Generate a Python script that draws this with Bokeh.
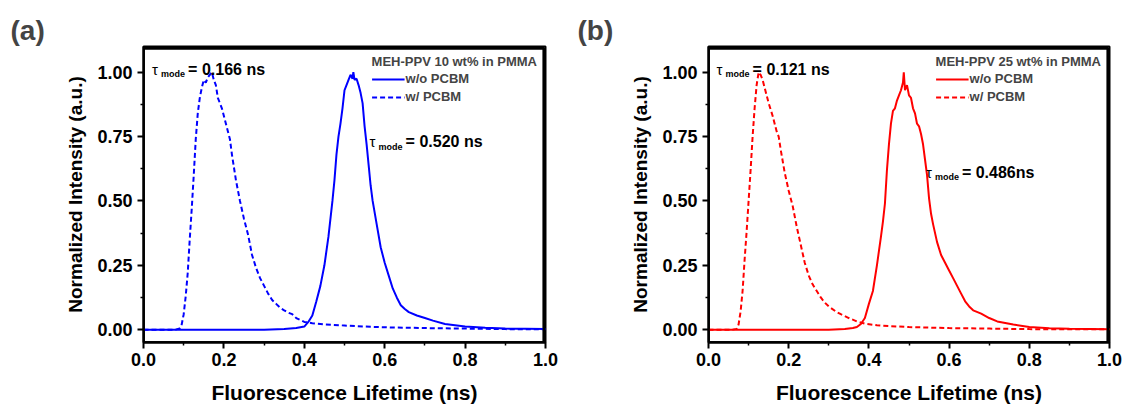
from bokeh.plotting import figure
from bokeh.layouts import row
from bokeh.models import (Range1d, FixedTicker, PrintfTickFormatter, Label, Legend,
                          LegendItem, BoxAnnotation)
from bokeh.embed import file_html
from bokeh.resources import INLINE

FONT = "Liberation Sans"

# ---------------- data ----------------
x_ticks = [0.0, 0.2, 0.4, 0.6, 0.8, 1.0]
x_minor = [0.1, 0.3, 0.5, 0.7, 0.9]
y_ticks = [0.0, 0.25, 0.5, 0.75, 1.0]
y_minor = [0.125, 0.375, 0.625, 0.875]
x_lim = (0.0, 1.0)
y_lim = (-0.05, 1.10)

# panel (a): MEH-PPV 10 wt% in PMMA
a_wo_t = [0.00, 0.10, 0.20, 0.30, 0.35, 0.38, 0.40, 0.41, 0.42, 0.43, 0.44, 0.45, 0.46,
          0.47, 0.475, 0.48, 0.485, 0.49, 0.495, 0.50, 0.505, 0.51, 0.515, 0.52, 0.522,
          0.525, 0.53, 0.535, 0.54, 0.545, 0.55, 0.555, 0.56, 0.565, 0.57, 0.58, 0.59,
          0.60, 0.61, 0.62, 0.63, 0.64, 0.65, 0.66, 0.68, 0.70, 0.72, 0.75, 0.80, 0.85,
          0.90, 0.95, 1.00]
a_wo_i = [0.0, 0.0, 0.0, 0.0, 0.002, 0.006, 0.012, 0.03, 0.055, 0.11, 0.17, 0.25, 0.36,
          0.50, 0.58, 0.68, 0.75, 0.80, 0.86, 0.93, 0.95, 0.97, 0.99, 0.975, 1.0,
          0.97, 0.975, 0.95, 0.92, 0.88, 0.79, 0.72, 0.64, 0.56, 0.50, 0.41, 0.32,
          0.26, 0.21, 0.16, 0.125, 0.095, 0.08, 0.068, 0.055, 0.045, 0.035, 0.022, 0.012, 0.007,
          0.004, 0.003, 0.002]

a_w_t = [0.00, 0.05, 0.08, 0.09, 0.095, 0.10, 0.105, 0.11, 0.115, 0.12, 0.125, 0.13, 0.135,
         0.14, 0.145, 0.15, 0.155, 0.16, 0.165, 0.17, 0.175, 0.18, 0.185, 0.19, 0.195,
         0.20, 0.205, 0.21, 0.215, 0.22, 0.23, 0.24, 0.25, 0.26, 0.27, 0.28, 0.29, 0.30,
         0.31, 0.32, 0.33, 0.34, 0.35, 0.36, 0.37, 0.38, 0.40, 0.42, 0.45, 0.50, 0.55,
         0.60, 0.70, 0.80, 0.90, 1.00]
a_w_i = [0.0, 0.0, 0.0, 0.005, 0.02, 0.06, 0.13, 0.22, 0.35, 0.47, 0.60, 0.74, 0.84,
         0.90, 0.94, 0.97, 0.96, 0.98, 0.99, 1.0, 0.97, 0.95, 0.90, 0.88, 0.86,
         0.83, 0.80, 0.77, 0.74, 0.68, 0.58, 0.50, 0.43, 0.37, 0.29, 0.24, 0.20, 0.17,
         0.14, 0.115, 0.10, 0.085, 0.075, 0.066, 0.06, 0.045, 0.03, 0.025, 0.02, 0.016, 0.012,
         0.009, 0.006, 0.004, 0.002, 0.001]

# panel (b): MEH-PPV 25 wt% in PMMA
b_wo_t = [0.00, 0.30, 0.34, 0.36, 0.37, 0.38, 0.39, 0.40, 0.41, 0.42, 0.43, 0.435, 0.44,
          0.445, 0.45, 0.455, 0.46, 0.465, 0.47, 0.475, 0.48, 0.485, 0.487, 0.49, 0.495,
          0.50, 0.505, 0.51, 0.515, 0.52, 0.525, 0.53, 0.535, 0.54, 0.545, 0.55, 0.555,
          0.56, 0.57, 0.58, 0.59, 0.60, 0.61, 0.62, 0.63, 0.64, 0.65, 0.66, 0.68, 0.70,
          0.72, 0.76, 0.80, 0.85, 0.90, 1.00]
b_wo_i = [0.0, 0.0, 0.002, 0.006, 0.01, 0.022, 0.045, 0.10, 0.15, 0.25, 0.36, 0.42, 0.49,
          0.62, 0.72, 0.80, 0.85, 0.86, 0.89, 0.91, 0.93, 0.96, 1.0, 0.93, 0.95,
          0.91, 0.90, 0.86, 0.84, 0.80, 0.79, 0.76, 0.72, 0.66, 0.60, 0.51, 0.45,
          0.41, 0.34, 0.29, 0.26, 0.23, 0.20, 0.17, 0.14, 0.11, 0.09, 0.075, 0.062, 0.045,
          0.032, 0.02, 0.01, 0.005, 0.003, 0.001]

b_w_t = [0.00, 0.06, 0.07, 0.075, 0.08, 0.085, 0.09, 0.095, 0.10, 0.105, 0.11, 0.115,
         0.12, 0.125, 0.13, 0.135, 0.14, 0.15, 0.16, 0.17, 0.175, 0.18, 0.19, 0.20, 0.21,
         0.22, 0.23, 0.24, 0.25, 0.26, 0.27, 0.28, 0.29, 0.30, 0.32, 0.33, 0.35, 0.37,
         0.39, 0.42, 0.45, 0.50, 0.60, 0.70, 0.80, 0.90, 1.00]
b_w_i = [0.0, 0.0, 0.003, 0.02, 0.07, 0.15, 0.27, 0.38, 0.50, 0.62, 0.75, 0.86,
         0.95, 1.0, 0.99, 0.97, 0.94, 0.88, 0.83, 0.77, 0.75, 0.70, 0.61, 0.54, 0.48,
         0.40, 0.33, 0.26, 0.21, 0.175, 0.15, 0.125, 0.105, 0.09, 0.068, 0.06, 0.045, 0.032,
         0.023, 0.017, 0.014, 0.010, 0.006, 0.004, 0.002, 0.001, 0.001]

panel_tags = ["(a)", "(b)"]
legend_titles = ["MEH-PPV 10 wt% in PMMA", "MEH-PPV 25 wt% in PMMA"]
series_labels = ["w/o PCBM", "w/ PCBM"]
tau_texts = [["= 0.166 ns", "= 0.520 ns"], ["= 0.121 ns", "= 0.486ns"]]
# anchor (data coords) of the "= ..." part of each annotation
tau_pos = [[(0.111, 1.012), (0.652, 0.729)], [(0.110, 1.012), (0.632, 0.612)]]
colors = ["#0000FF", "#FF0000"]


def make_panel(idx, wo_t, wo_i, w_t, w_i, width, left, right, tag_x):
    color = colors[idx]
    p = figure(width=width, height=407, output_backend="svg", toolbar_location=None,
               x_range=Range1d(*x_lim), y_range=Range1d(*y_lim),
               min_border_left=left, min_border_right=right,
               min_border_top=46, min_border_bottom=65)
    p.xgrid.visible = False
    p.ygrid.visible = False
    p.outline_line_color = "#000000"
    p.outline_line_width = 2
    p.outline_line_alpha = 1.0
    p.background_fill_color = "white"
    p.border_fill_color = "white"

    # title (panel tag)
    p.title.text = panel_tags[idx]
    p.title.text_font = FONT
    p.title.text_font_size = "28px"
    p.title.text_font_style = "bold"
    p.title.align = "left"
    p.title.offset = -(left - tag_x)
    p.title.standoff = 2

    # frame box, slightly inset from the range limits so it is never culled
    dy = (y_lim[1] - y_lim[0]) * 0.006
    dx = (x_lim[1] - x_lim[0]) * 0.004
    p.quad(left=[x_lim[0]], right=[x_lim[1] - dx], bottom=[y_lim[0]], top=[y_lim[1] - dy],
           fill_alpha=0, line_color="#000000", line_width=2.5)
    p.add_layout(BoxAnnotation(left=x_lim[0], right=x_lim[1] - dx,
                               bottom=y_lim[0], top=y_lim[1] - dy,
                               fill_alpha=0, line_color="#000000", line_width=2.5,
                               line_alpha=1.0, level="overlay"))

    r1 = p.line(wo_t, wo_i, line_color=color, line_width=2)
    r2 = p.line(w_t, w_i, line_color=color, line_width=2, line_dash="5 3")

    for ax in (p.xaxis[0], p.yaxis[0]):
        ax.axis_line_width = 2
        ax.major_tick_line_width = 2
        ax.minor_tick_line_width = 1.5
        ax.major_tick_in = 0
        ax.major_tick_out = 6
        ax.minor_tick_in = 0
        ax.minor_tick_out = 3
        ax.major_label_text_font = FONT
        ax.major_label_text_font_style = "bold"
        ax.major_label_text_font_size = "18px"
        ax.major_label_text_color = "black"
        ax.axis_label_text_font = FONT
        ax.axis_label_text_font_style = "bold"
        ax.axis_label_text_color = "black"

    p.xaxis.ticker = FixedTicker(ticks=x_ticks, minor_ticks=x_minor)
    p.yaxis.ticker = FixedTicker(ticks=y_ticks, minor_ticks=y_minor)
    p.xaxis.formatter = PrintfTickFormatter(format="%.1f")
    p.yaxis.formatter = PrintfTickFormatter(format="%.2f")
    p.xaxis.axis_label = "Fluorescence Lifetime (ns)"
    p.yaxis.axis_label = "Normalized Intensity (a.u.)"
    p.xaxis.axis_label_text_font_size = "21px"
    p.yaxis.axis_label_text_font_size = "19px"
    p.xaxis.major_label_standoff = 4
    p.yaxis.major_label_standoff = 5
    p.xaxis.axis_label_standoff = 12
    p.yaxis.axis_label_standoff = 8

    legend = Legend(items=[LegendItem(label=series_labels[0], renderers=[r1]),
                           LegendItem(label=series_labels[1], renderers=[r2])],
                    location="top_right")
    legend.title = legend_titles[idx]
    legend.title_text_font = FONT
    legend.title_text_font_style = "bold"
    legend.title_text_font_size = "13px"
    legend.title_standoff = 2
    legend.label_text_font = FONT
    legend.label_text_font_style = "bold"
    legend.label_text_font_size = "13px"
    legend.glyph_width = 33
    legend.glyph_height = 14
    legend.label_height = 14
    legend.label_standoff = 1
    legend.spacing = 3
    legend.padding = 5
    legend.margin = 3
    legend.background_fill_alpha = 0
    legend.border_line_alpha = 0
    p.add_layout(legend)

    for (tx, ty), txt in zip(tau_pos[idx], tau_texts[idx]):
        p.add_layout(Label(x=tx, y=ty, x_offset=-36, text="τ", text_font=FONT,
                           text_font_size="15px", text_color="black",
                           text_baseline="alphabetic"))
        p.add_layout(Label(x=tx, y=ty, x_offset=-27, y_offset=-5, text="mode", text_font=FONT,
                           text_font_size="9px", text_font_style="bold", text_color="black",
                           text_baseline="alphabetic"))
        p.add_layout(Label(x=tx, y=ty, text=txt, text_font=FONT, text_font_size="16px",
                           text_font_style="bold", text_color="black",
                           text_baseline="alphabetic"))
    return p


pa = make_panel(0, a_wo_t, a_wo_i, a_w_t, a_w_i, 568, 143, 23, 10)
pb = make_panel(1, b_wo_t, b_wo_i, b_w_t, b_w_i, 558, 140, 17, 9)

layout = row(pa, pb)
open("out.html", "w").write(file_html(layout, INLINE))
